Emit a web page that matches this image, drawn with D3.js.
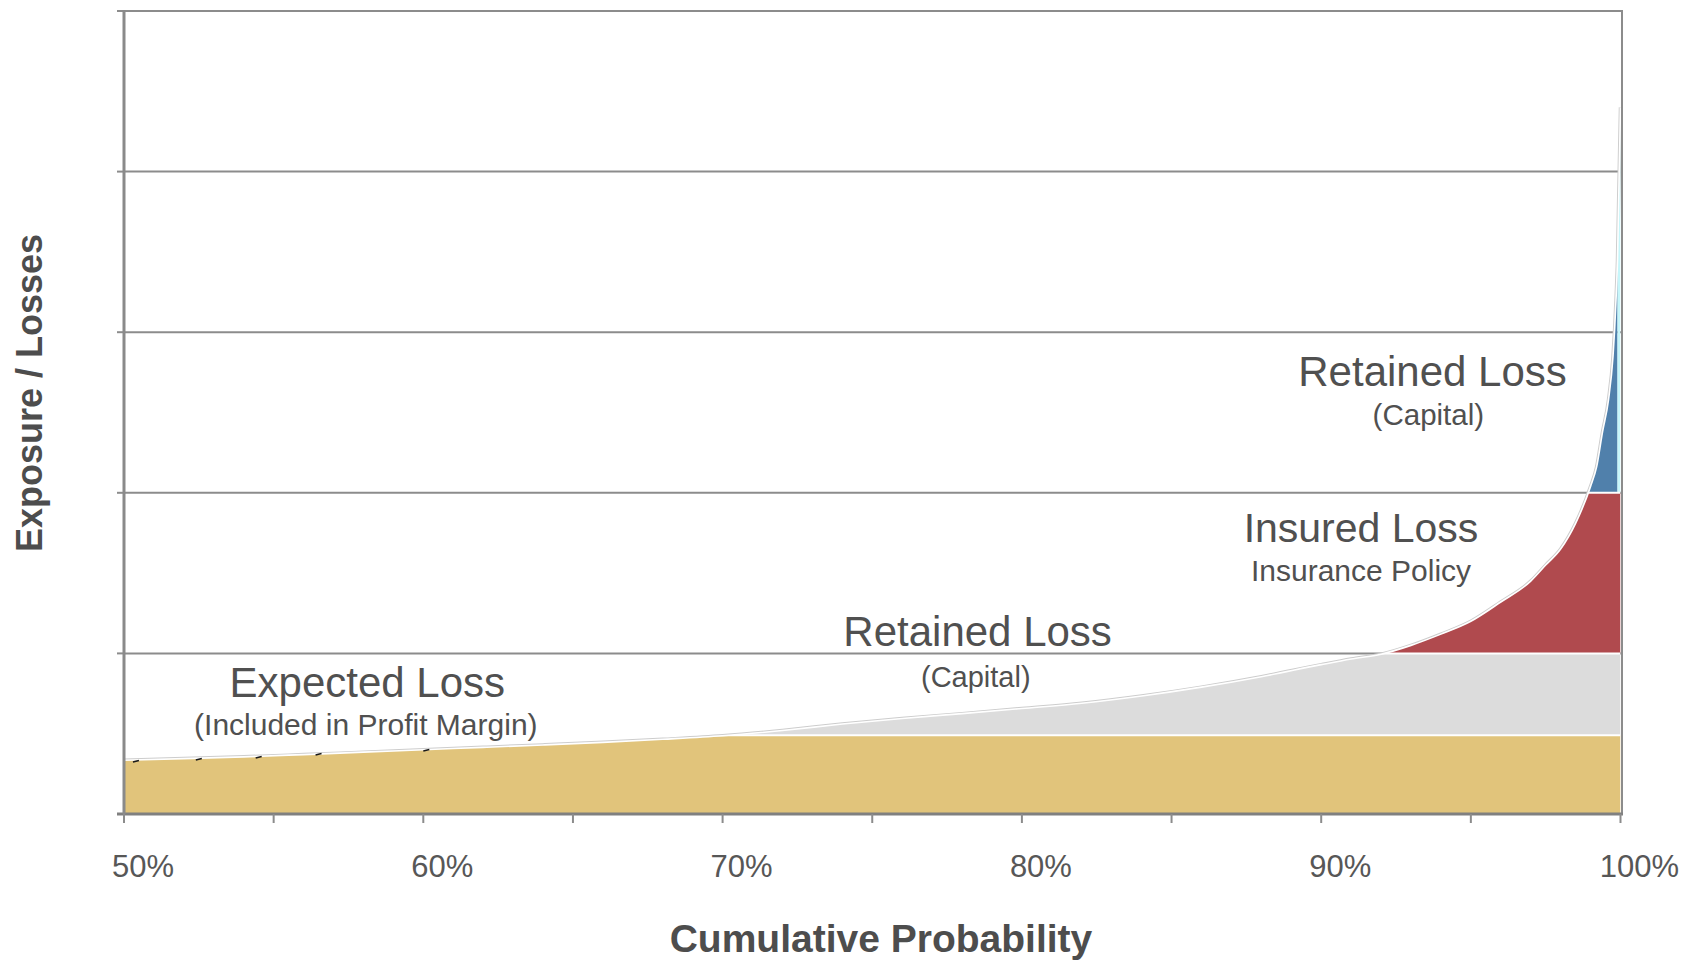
<!DOCTYPE html>
<html>
<head>
<meta charset="utf-8">
<script src="https://cdn.jsdelivr.net/npm/d3@7/dist/d3.min.js"></script>
<style>
  html, body { margin: 0; padding: 0; background: #ffffff; }
  svg { display: block; }
  text { font-family: "Liberation Sans", Arial, Helvetica, sans-serif; }
</style>
</head>
<body>
<svg id="chart" width="1697" height="960"></svg>
<script>
// Loss curve: cumulative probability (%) against loss level (grid units)
const probability = [50, 52, 54, 56, 58, 60, 62, 64, 66, 68, 70, 72, 74, 76, 78, 80, 82, 84, 86, 88,
                     90, 91, 92, 93, 94, 95, 96, 97, 97.5, 98, 98.5, 99, 99.2, 99.4, 99.6, 99.75,
                     99.85, 99.9, 100];
const loss = [0.335, 0.345, 0.356, 0.37, 0.385, 0.40, 0.415, 0.43, 0.446, 0.465, 0.487, 0.52, 0.56,
              0.595, 0.625, 0.657, 0.69, 0.735, 0.79, 0.855, 0.93, 0.965, 0.995, 1.05, 1.12, 1.2,
              1.32, 1.45, 1.55, 1.65, 1.81, 2.04, 2.16, 2.38, 2.58, 2.85, 3.2, 3.45, 4.4];

// Loss layers: floor / ceiling on the loss axis, probability span
const layerNames = ["Expected Loss", "Retained Loss", "Insured Loss", "Retained Loss (upper)", "Tail"];
const layerFloor = [0, 0.49, 1, 2, 2];
const layerCeil  = [0.49, 1, 2, 5, 5];
const layerFrom  = [50, 50, 50, 50, 99.9];
const layerTo    = [100, 100, 100, 99.9, 100];
const layerColors = ["#e1c47b", "#dcdcdc", "#b04a4e", "#5080ab", "#c6f6fa"];

// Small dark marks sitting on the expected-loss edge
const markProb = [50.4, 52.5, 54.5, 56.5, 60.1];
const markLoss = [0.33, 0.342, 0.355, 0.374, 0.399];

// Axis ticks
const gridLevels = [0, 1, 2, 3, 4, 5];
const xTicks = [50, 55, 60, 65, 70, 75, 80, 85, 90, 95, 100];
const xTickLabels = [50, 60, 70, 80, 90, 100];

// Annotations placed in data space: [probability, loss]
const annoText = ["Expected Loss", "(Included in Profit Margin)", "Retained Loss", "(Capital)",
                  "Insured Loss", "Insurance Policy", "Retained Loss", "(Capital)"];
const annoProb = [58.13, 58.08, 78.52, 78.46, 91.33, 91.33, 93.72, 93.58];
const annoLoss = [0.73, 0.494, 1.046, 0.791, 1.692, 1.451, 2.665, 2.42];
const annoSize = [42, 30, 42, 29, 41, 30, 42, 29.5];

const svg = d3.select("#chart");
const x = d3.scaleLinear().domain([50, 100]).range([124, 1620.5]);
const y = d3.scaleLinear().domain([0, 5]).range([814, 11]);

const pts = probability.map((p, i) => ({ p, v: loss[i] }));
const defs = svg.append("defs");

// Horizontal gridlines and left ticks
svg.append("g").selectAll("line").data(gridLevels.filter(d => d > 0 && d < 5)).join("line")
  .attr("x1", x(50)).attr("x2", 1622)
  .attr("y1", d => y(d)).attr("y2", d => y(d))
  .attr("stroke", "#8c8c8c").attr("stroke-width", 2);
svg.append("g").selectAll("line").data(gridLevels).join("line")
  .attr("x1", x(50) - 7).attr("x2", x(50))
  .attr("y1", d => y(d)).attr("y2", d => y(d))
  .attr("stroke", "#8c8c8c").attr("stroke-width", 2);

// Curve outline underneath the fills
const curve = d3.line().curve(d3.curveMonotoneX).x(d => x(d.p)).y(d => y(d.v));
svg.append("path").datum(pts).attr("d", curve)
  .attr("fill", "none").attr("stroke", "#cdcdcd").attr("stroke-width", 3.5);

// Area under the loss curve, cut into layers
const under = d3.area().curve(d3.curveMonotoneX).x(d => x(d.p)).y0(y(0)).y1(d => y(d.v));
layerNames.forEach((name, i) => {
  const id = "layer" + i;
  defs.append("clipPath").attr("id", id).append("rect")
    .attr("x", x(layerFrom[i])).attr("width", x(layerTo[i]) - x(layerFrom[i]))
    .attr("y", y(layerCeil[i])).attr("height", y(layerFloor[i]) - y(layerCeil[i]));
  svg.append("path").datum(pts).attr("d", under)
    .attr("fill", layerColors[i]).attr("clip-path", `url(#${id})`);
});

// White seams between layers
defs.append("clipPath").attr("id", "belowCurve").append("path").datum(pts).attr("d", under);
const seams = svg.append("g").attr("clip-path", "url(#belowCurve)");
seams.selectAll("line").data([0.49, 1, 2]).join("line")
  .attr("x1", x(50)).attr("x2", x(100))
  .attr("y1", d => y(d)).attr("y2", d => y(d))
  .attr("stroke", "#ffffff").attr("stroke-width", 2);

// White edge along the curve
svg.append("path").datum(pts).attr("d", curve)
  .attr("fill", "none").attr("stroke", "#ffffff").attr("stroke-width", 1.6);

// Dark marks on the expected-loss edge
svg.append("g").selectAll("line").data(markProb).join("line")
  .attr("x1", (d) => x(d) - 3).attr("x2", (d) => x(d) + 3)
  .attr("y1", (d, i) => y(markLoss[i]) + 1).attr("y2", (d, i) => y(markLoss[i]) - 0.5)
  .attr("stroke", "#1a1a1a").attr("stroke-width", 1.6);

// Plot frame
svg.append("rect").attr("x", x(50)).attr("y", y(5)).attr("width", 1622 - x(50)).attr("height", y(0) - y(5))
  .attr("fill", "none").attr("stroke", "#8c8c8c").attr("stroke-width", 2);
svg.append("line").attr("x1", x(50) - 7).attr("x2", 1623).attr("y1", y(0)).attr("y2", y(0))
  .attr("stroke", "#808080").attr("stroke-width", 3);
svg.append("line").attr("x1", x(50)).attr("x2", x(50)).attr("y1", y(5) - 1).attr("y2", y(0))
  .attr("stroke", "#8a8a8a").attr("stroke-width", 3);

// Bottom ticks and labels
svg.append("g").selectAll("line").data(xTicks).join("line")
  .attr("x1", d => x(d)).attr("x2", d => x(d))
  .attr("y1", y(0)).attr("y2", y(0) + 9)
  .attr("stroke", "#8c8c8c").attr("stroke-width", 2);
svg.append("g").selectAll("text").data(xTickLabels).join("text")
  .attr("x", d => x(d) + 19).attr("y", 877)
  .attr("text-anchor", "middle").attr("font-size", 31).attr("fill", "#575757")
  .text(d => d + "%");

// Layer annotations
svg.append("g").selectAll("text").data(annoText).join("text")
  .attr("x", (d, i) => x(annoProb[i])).attr("y", (d, i) => y(annoLoss[i]))
  .attr("text-anchor", "middle").attr("font-size", (d, i) => annoSize[i]).attr("fill", "#505050")
  .text(d => d);

// Axis titles
svg.append("text").attr("x", 881).attr("y", 952)
  .attr("text-anchor", "middle").attr("font-size", 39).attr("font-weight", "bold").attr("fill", "#4d4d4d")
  .text("Cumulative Probability");
svg.append("text").attr("transform", "translate(42,393) rotate(-90)")
  .attr("text-anchor", "middle").attr("font-size", 36).attr("font-weight", "bold").attr("fill", "#4d4d4d")
  .text("Exposure / Losses");
</script>
</body>
</html>
